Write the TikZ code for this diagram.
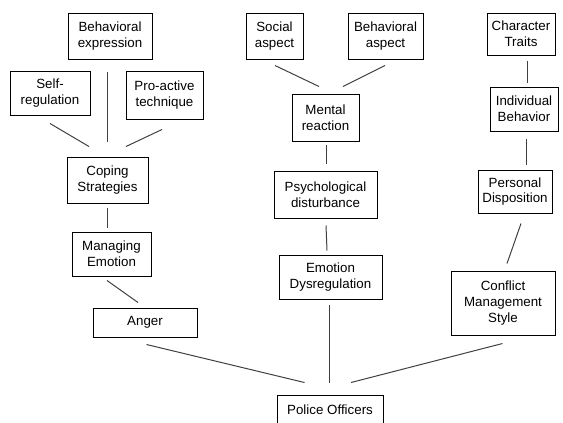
\documentclass[tikz,border=0pt]{standalone}
\usepackage{fontspec}
\setmainfont{Liberation Sans}
\usetikzlibrary{calc}

\begin{document}
\begin{tikzpicture}[x=0.75pt, y=-0.75pt,
  box/.style={draw, line width=0.75pt, align=center, inner sep=1pt,
    font=\fontsize{10}{11.8}\selectfont},
  sz/.style 2 args={minimum width=#1*0.75pt, minimum height=#2*0.75pt},
  link/.style={draw=black!75, line width=0.75pt}]
  \useasboundingbox (0,0) rectangle (563,422);

  % left branch
  \node[box, sz={84}{46}] (behexp) at (110,36) {Behavioral\\expression};
  \node[box, sz={80}{44}] (selfreg) at (50,93) {Self-\\regulation};
  \node[box, sz={77}{48}] (proact) at (164.5,95) {Pro-active\\technique};
  \node[box, sz={81}{46}] (coping) at (107.5,180) {Coping\\Strategies};
  \node[box, sz={79}{44}] (managing) at (111.5,254) {Managing\\Emotion};
  \node[box, sz={104}{29}] (anger) at (145,322.5) {Anger};

  % middle branch
  \node[box, sz={57}{46}] (social) at (274.5,36) {Social\\aspect};
  \node[box, sz={75}{46}] (behasp) at (385.5,36) {Behavioral\\aspect};
  \node[box, sz={67}{47}] (mental) at (325.5,117.5) {Mental\\reaction};
  \node[box, sz={103}{47}] (psych) at (325.5,194.5) {Psychological\\disturbance};
  \node[box, sz={103}{44}] (emodys) at (330.5,277) {Emotion\\Dysregulation};

  % right branch
  \node[box, sz={68}{42}] (chartr) at (521,34) {Character\\Traits};
  \node[box, sz={68}{44}] (indiv) at (524,109) {Individual\\Behavior};
  \node[box, sz={74}{43}] (persdisp) at (515,191.5) {Personal\\Disposition};
  \node[box, sz={104}{64}] (conflict) at (503,303) {Conflict\\Management\\Style};

  % root, cut off by the lower edge
  \node[box, sz={106}{32}] (police) at (330,411) {\raisebox{2.25pt}{Police Officers}};

  % connectors (they stop short of the boxes)
  \draw[link] ($(behexp.south)+(-3,12)$) -- ($(coping.north)+(-0.5,-15)$);
  \draw[link] ($(selfreg.south)+(0,8)$) -- ($(coping.north)+(-18.5,-10)$);
  \draw[link] ($(proact.south)+(-2.5,10)$) -- ($(coping.north)+(18.5,-10)$);
  \draw[link] ($(coping.south)+(-0.5,4)$) -- ($(managing.north)+(-4.5,-4)$);
  \draw[link] ($(managing.south)+(-4.5,4)$) -- ($(anger.north)+(-7,-5)$);
  \draw[link] ($(anger.south)+(1.5,7)$) -- ($(police.north)+(-25.5,-12)$);

  \draw[link] ($(social.south)+(0.5,6)$) -- ($(mental.north)+(-6.5,-7)$);
  \draw[link] ($(behasp.south)+(-0.5,6)$) -- ($(mental.north)+(17.5,-7)$);
  \draw[link] ($(mental.south)+(1,3)$) -- ($(psych.north)+(1,-7)$);
  \draw[link] ($(psych.south)+(0.5,7)$) -- ($(emodys.north)+(-3.5,-4)$);
  \draw[link] ($(emodys.south)+(-1.5,5)$) -- ($(police.north)+(-1,-12)$);

  \draw[link] ($(chartr.south)+(6.5,5)$) -- ($(indiv.north)+(3.5,-4)$);
  \draw[link] ($(indiv.south)+(2,7)$) -- ($(persdisp.north)+(11,-5)$);
  \draw[link] ($(persdisp.south)+(6,10)$) -- ($(conflict.north)+(4,-7)$);
  \draw[link] ($(conflict.south)+(-0.5,8)$) -- ($(police.north)+(21,-12)$);
\end{tikzpicture}
\end{document}
